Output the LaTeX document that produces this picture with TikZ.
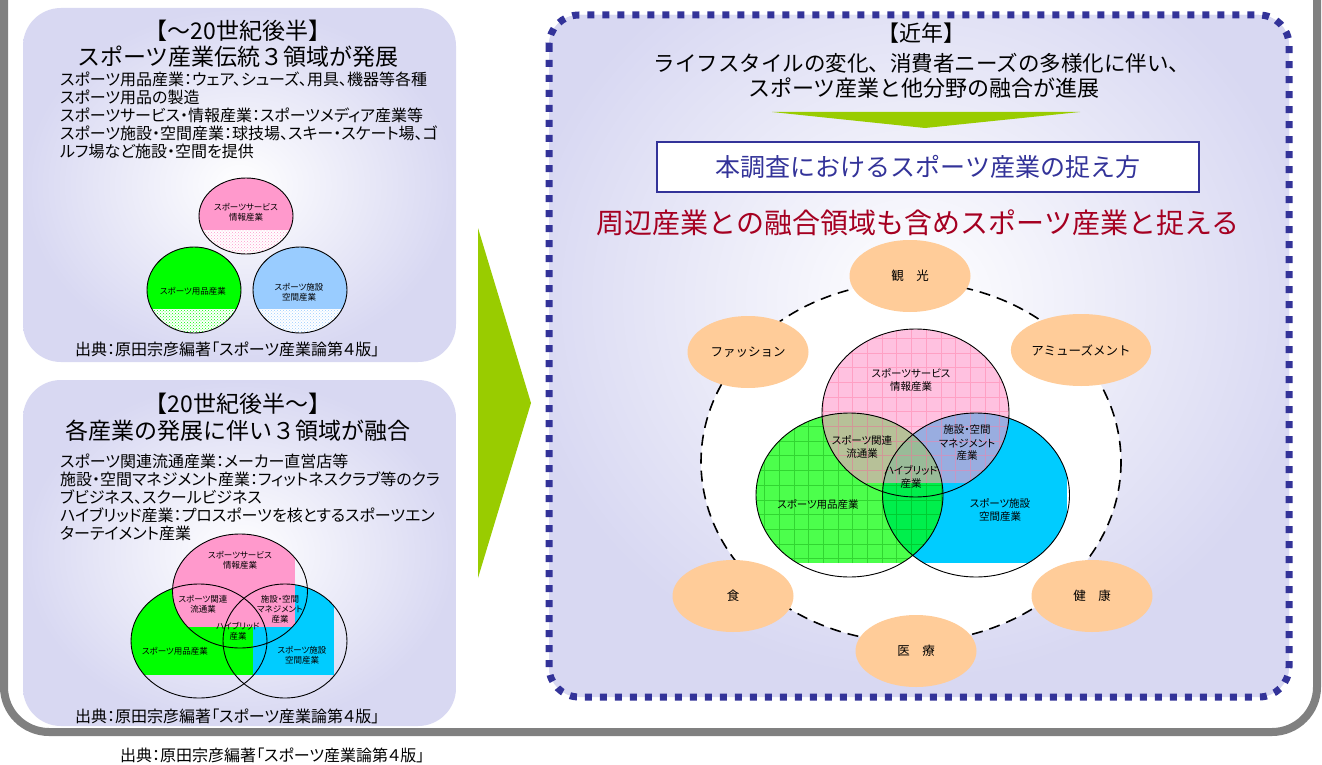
\documentclass[tikz,border=0pt]{standalone}
\usepackage{fontspec}
\setmainfont{Noto Sans CJK JP}
\newfontfamily\pfont{Noto Sans CJK JP}[RawFeature=+palt]
\usetikzlibrary{shapes.geometric,patterns}
\definecolor{lav}{RGB}{216,216,242}
\definecolor{frameg}{RGB}{128,128,128}
\definecolor{navyb}{RGB}{51,51,153}
\definecolor{arrg}{RGB}{153,204,0}
\definecolor{redt}{RGB}{165,0,33}
\definecolor{pinkc}{RGB}{255,153,204}
\definecolor{greenc}{RGB}{0,255,0}
\definecolor{bluec}{RGB}{153,204,255}
\definecolor{cyanc}{RGB}{0,204,255}
\definecolor{orangec}{RGB}{255,204,153}
\newcommand{\myfs}[1]{\fontsize{#1}{#1}\selectfont}
\newcommand{\myfsb}[2]{\fontsize{#1}{#2}\selectfont}
\begin{document}
\begin{tikzpicture}[x=1pt,y=-1pt,
  ttl/.style={font=\myfs{23}, inner sep=0},
  body/.style={anchor=north west, align=left, inner sep=0, font=\pfont\myfsb{16}{18}},
  src/.style={anchor=base west, inner sep=0, font=\pfont\myfs{16}},
  lblS/.style={align=center, inner sep=0, font=\pfont\myfsb{8.5}{10}},
  lblM/.style={align=center, inner sep=0, font=\pfont\myfsb{10.5}{13}},
  orng/.style={ellipse, fill=orangec, minimum width=121pt, minimum height=72pt, inner sep=0, font=\myfs{12.5}},
  outl/.style={draw=black, line width=0.9},
  ggrid/.style={draw=green!55!black, line width=0.5, opacity=0.35},
  pgrid/.style={draw=pinkc!80!red, line width=0.5, opacity=0.45}]
\useasboundingbox (0,0) rectangle (1322,765);

% outer frame
\draw[frameg, line width=8, fill=white, rounded corners=45] (4,-80) rectangle (1317,732);

% ---------- top-left panel ----------
\shade[inner color=white, outer color=lav, rounded corners=38] (23,8) rectangle (456,362);
\node[ttl] (t1a) at (238,31) {【～20世紀後半】};
\node[ttl] (t1b) at (238,57) {スポーツ産業伝統３領域が発展};
\node[body] (t1c) at (60,72) {スポーツ用品産業：ウェア、シューズ、用具、機器等各種\\
スポーツ用品の製造\\
スポーツサービス・情報産業：スポーツメディア産業等\\
スポーツ施設・空間産業：球技場、スキー・スケート場、ゴ\\
ルフ場など施設・空間を提供};

% three separate circles
\fill[white] (246,216) ellipse (47 and 38);
\begin{scope}
  \clip (246,216) ellipse (47 and 38);
  \fill[pinkc] (195,170) rectangle (300,230);
  \fill[pattern=crosshatch dots, pattern color=pinkc] (195,230) rectangle (300,260);
\end{scope}
\draw[outl] (246,216) ellipse (47 and 38);
\fill[white] (194,290) ellipse (47 and 43);
\begin{scope}
  \clip (194,290) ellipse (47 and 43);
  \fill[greenc] (140,240) rectangle (250,309);
  \fill[pattern=crosshatch dots, pattern color=greenc] (140,309) rectangle (250,340);
\end{scope}
\draw[outl] (194,290) ellipse (47 and 43);
\fill[white] (300,290) ellipse (47 and 43);
\begin{scope}
  \clip (300,290) ellipse (47 and 43);
  \fill[bluec] (250,240) rectangle (350,309);
  \fill[pattern=crosshatch dots, pattern color=bluec] (250,309) rectangle (350,340);
\end{scope}
\draw[outl] (300,290) ellipse (47 and 43);
\node[lblS] (a1) at (246,212) {スポーツサービス\\情報産業};
\node[lblS] (a2) at (193,291) {スポーツ用品産業};
\node[lblS] (a3) at (299,292) {スポーツ施設\\空間産業};
\node[src] (s1) at (75,355) {出典：原田宗彦編著「スポーツ産業論第４版」};

% ---------- bottom-left panel ----------
\shade[inner color=white, outer color=lav, rounded corners=38] (23,380) rectangle (456,726);
\node[ttl] (t2a) at (238,404) {【20世紀後半～】};
\node[ttl] (t2b) at (238,431) {各産業の発展に伴い３領域が融合};
\node[body] (t2c) at (60,454) {スポーツ関連流通産業：メーカー直営店等\\
施設・空間マネジメント産業：フィットネスクラブ等のクラ\\
ブビジネス、スクールビジネス\\
ハイブリッド産業：プロスポーツを核とするスポーツエン\\
ターテイメント産業};

\begin{scope}
  \clip (199,641) ellipse (68 and 57);
  \fill[greenc] (120,570) rectangle (253,675);
\end{scope}
\begin{scope}
  \clip (285,641) ellipse (62 and 57);
  \fill[cyanc] (253,570) rectangle (334,675);
\end{scope}
\begin{scope}
  \clip (240,591) ellipse (67.5 and 57);
  \fill[pinkc] (160,530) rectangle (295,627);
\end{scope}
\draw[outl] (240,591) ellipse (67.5 and 57);
\draw[outl] (199,641) ellipse (68 and 57);
\draw[outl] (285,641) ellipse (62 and 57);
\node[lblS] (b1) at (240,560) {スポーツサービス\\情報産業};
\node[lblS] (b2) at (203,604) {スポーツ関連\\流通業};
\node[lblS] (b3) at (280,609) {施設・空間\\マネジメント\\産業};
\node[lblS] (b4) at (238,631) {ハイブリッド\\産業};
\node[lblS] (b5) at (175,651) {スポーツ用品産業};
\node[lblS] (b6) at (302,655) {スポーツ施設\\空間産業};
\node[src] (s2) at (75,722) {出典：原田宗彦編著「スポーツ産業論第４版」};

% ---------- big green arrow ----------
\fill[arrg] (478,228) -- (478,578) -- (531,403) -- cycle;

% ---------- right panel ----------
\begin{scope}
  \clip[rounded corners=30] (549,15) rectangle (1289,697);
  \fill[lav] (540,0) rectangle (1300,710);
  \shade[inner color=white, outer color=lav] (515,-80) rectangle (1315,680);
\end{scope}
\draw[navyb, line width=7, dash pattern=on 7 off 8, rounded corners=30] (549,15) rectangle (1289,697);

\node[font=\myfs{22}, inner sep=0] (r1) at (921,33) {【近年】};
\node[font=\myfs{21.5}, inner sep=0] (r2) at (922,63) {ライフスタイルの変化、消費者ニーズの多様化に伴い、};
\node[font=\myfs{22}, inner sep=0] (r3) at (924,88) {スポーツ産業と他分野の融合が進展};
\fill[arrg] (772,112) -- (1080,112) -- (925,128) -- cycle;
\node[draw=navyb, line width=2, fill=white, minimum width=542pt, minimum height=50pt, text=navyb, font=\myfs{25}] (box) at (928,167) {本調査におけるスポーツ産業の捉え方};
\node[text=redt, font=\myfs{28}, inner sep=0] (red) at (918,223) {周辺産業との融合領域も含めスポーツ産業と捉える};

% dashed ring
\draw[fill=white, line width=1.6, dash pattern=on 11 off 7] (911,462) ellipse (210 and 180);

% venn
\begin{scope}
  \clip (976,495) ellipse (93.5 and 82);
  \fill[cyanc] (880,410) rectangle (1067,563);
\end{scope}
\begin{scope}
  \clip (849.5,495) ellipse (93.5 and 82);
  \fill[greenc, opacity=0.7] (750,410) rectangle (950,563);
  \draw[ggrid, step=14.7pt] (750,410) grid (950,563);
\end{scope}
\begin{scope}
  \clip (915.5,413) ellipse (93.5 and 84);
  \fill[pinkc, opacity=0.6] (820,325) rectangle (1012,483);
  \draw[pgrid, step=14.7pt] (820,325) grid (1012,483);
\end{scope}
\draw[outl] (915.5,413) ellipse (93.5 and 84);
\draw[outl] (849.5,495) ellipse (93.5 and 82);
\draw[outl] (976,495) ellipse (93.5 and 82);
\node[lblM] (v1) at (911,380) {スポーツサービス\\情報産業};
\node[lblM] (v2) at (862,447) {スポーツ関連\\流通業};
\node[lblM] (v3) at (967,443) {施設・空間\\マネジメント\\産業};
\node[lblM] (v4) at (911,477) {ハイブリッド\\産業};
\node[lblM] (v5) at (818,504) {スポーツ用品産業};
\node[lblM] (v6) at (1000,510) {スポーツ施設\\空間産業};

% orange surrounding industries
\node[orng] (kanko) at (910,276) {観　光};
\node[orng] (fashion) at (748,352) {ファッション};
\node[orng] (amuse) at (1081,350) {アミューズメント};
\node[orng] (shoku) at (733,596) {食};
\node[orng] (kenko) at (1092,596) {健　康};
\node[orng] (iryo) at (916,651) {医　療};

% footer
\node[src] (s3) at (120,761) {出典：原田宗彦編著「スポーツ産業論第４版」};
\end{tikzpicture}
\end{document}
